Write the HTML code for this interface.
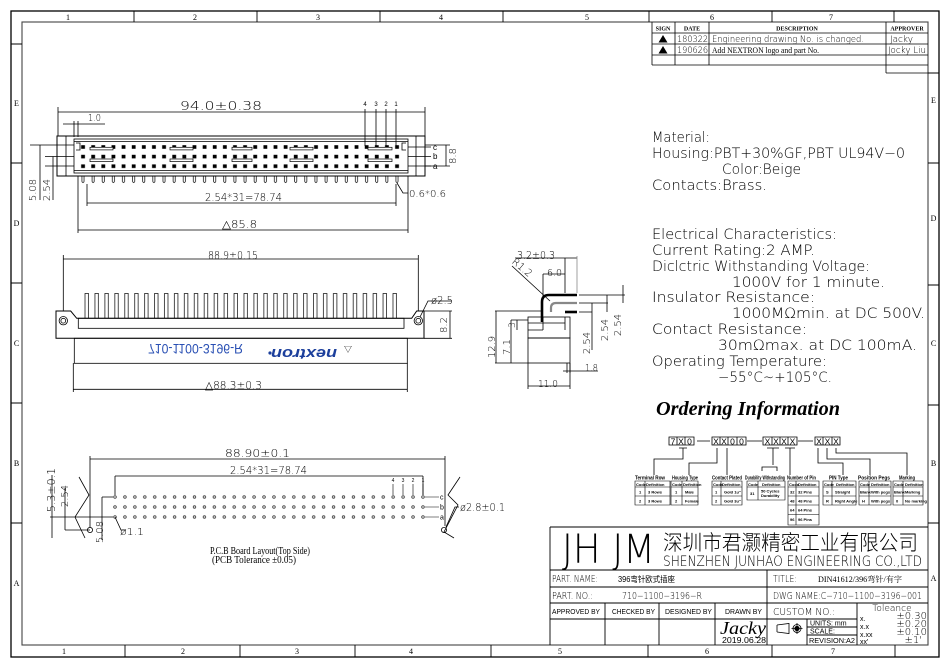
<!DOCTYPE html>
<html><head><meta charset="utf-8"><style>
html,body{margin:0;padding:0;background:#fff;}
svg{display:block;}
text{font-family:"Liberation Sans","Noto Sans CJK SC",sans-serif;fill:#000;}
.s{font-family:"Liberation Serif","Noto Serif CJK SC",serif;}
.b{font-weight:bold;}
.t{font-family:"DejaVu Sans","Liberation Sans",sans-serif;font-weight:200;}
</style></head><body>
<svg width="952" height="668" viewBox="0 0 952 668" xmlns="http://www.w3.org/2000/svg">
<defs>
<pattern id="sq" patternUnits="userSpaceOnUse" x="77.94" y="142.3" width="10.129" height="9.6">
 <rect x="3.2" y="2.9" width="3.8" height="3.6" fill="#000"/>
</pattern>
<pattern id="tl" patternUnits="userSpaceOnUse" x="77.94" y="176" width="10.129" height="9">
 <path d="M4,0 V5.5 Q5.06,8 6.1,5.5 V0" stroke="#000" stroke-width="0.7" fill="none"/>
</pattern>
<pattern id="fp" patternUnits="userSpaceOnUse" x="82" y="293" width="9.935" height="27">
 <rect x="3" y="0.5" width="3.5" height="26" fill="#fff" stroke="#000" stroke-width="0.7"/>
</pattern>
<pattern id="ph" patternUnits="userSpaceOnUse" x="110.03" y="492" width="9.935" height="10">
 <circle cx="4.97" cy="5" r="1.3" fill="none" stroke="#222" stroke-width="0.7"/>
 <circle cx="4.97" cy="5" r="0.4" fill="#222"/>
</pattern>
</defs>
<rect x="0" y="0" width="952" height="668" fill="#fff"/>

<!-- FRAME -->
<g stroke="#000" fill="none">
<rect x="11" y="11" width="928" height="646" stroke-width="1.3"/>
<rect x="22" y="22" width="906" height="623" stroke="#444" stroke-width="1.1"/>
<path d="M134,11V22 M257,11V22 M380,11V22 M503,11V22 M649,11V22 M772,11V22 M894,11V22" stroke-width="0.9"/>
<path d="M125,645V657 M240,645V657 M355,645V657 M491,645V657 M648,645V657 M772,645V657 M895,645V657" stroke-width="0.9"/>
<path d="M11,44H22 M11,163H22 M11,283H22 M11,403H22 M11,523H22" stroke-width="0.9"/>
<path d="M928,73H939 M928,163H939 M928,285H939 M928,405H939 M928,523H939" stroke-width="0.9"/>
</g>
<g class="s" font-size="8" text-anchor="middle">
<text class="s" x="68" y="20">1</text><text class="s" x="195" y="20">2</text><text class="s" x="318" y="20">3</text><text class="s" x="441" y="20">4</text><text class="s" x="587" y="20">5</text><text class="s" x="712" y="20">6</text><text class="s" x="831" y="20">7</text>
<text class="s" x="64" y="654">1</text><text class="s" x="183" y="654">2</text><text class="s" x="297" y="654">3</text><text class="s" x="411" y="654">4</text><text class="s" x="560" y="654">5</text><text class="s" x="707" y="654">6</text><text class="s" x="833" y="654">7</text>
<text class="s" x="16.5" y="106">E</text><text class="s" x="16.5" y="226">D</text><text class="s" x="16.5" y="346">C</text><text class="s" x="16.5" y="466">B</text><text class="s" x="16.5" y="586">A</text>
<text class="s" x="933.5" y="103">E</text><text class="s" x="933.5" y="221">D</text><text class="s" x="933.5" y="346">C</text><text class="s" x="933.5" y="466">B</text><text class="s" x="933.5" y="581">A</text>
</g>

<!-- REVISION TABLE -->
<g stroke="#000" stroke-width="0.8" fill="none">
<path d="M652,22V65 M675,22V65 M709,22V65 M886,22V73 M652,33H928 M652,44H928 M652,55H928 M652,65H928 M886,73H928"/>
</g>
<g font-size="6" text-anchor="middle">
<text class="s b" x="663" y="30.5">SIGN</text><text class="s b" x="692" y="30.5">DATE</text><text class="s b" x="797" y="30.5">DESCRIPTION</text><text class="s b" x="907" y="30.5">APPROVER</text>
</g>
<polygon points="663,35 667.5,42.5 658.5,42.5" fill="#000"/>
<polygon points="663,46 667.5,53.5 658.5,53.5" fill="#000"/>
<g class="t" fill="#333">
<text class="t" x="677" y="42" font-size="9" textLength="31" lengthAdjust="spacingAndGlyphs">180322</text>
<text class="t" x="712" y="42" font-size="9" textLength="152" lengthAdjust="spacingAndGlyphs">Engineering drawing No. is changed.</text>
<text class="t" x="890" y="42" font-size="9" textLength="23" lengthAdjust="spacingAndGlyphs">Jacky</text>
<text class="t" x="677" y="53" font-size="9" textLength="31" lengthAdjust="spacingAndGlyphs">190626</text>
<text class="t" x="888" y="53" font-size="9" textLength="38" lengthAdjust="spacingAndGlyphs">Jocky  Liu</text>
</g>
<text class="s" x="712" y="53" font-size="8" textLength="107" lengthAdjust="spacingAndGlyphs">Add NEXTRON logo and part No.</text>

<!-- TOP VIEW -->
<g stroke="#000" stroke-width="0.8" fill="none">
<path d="M58,112H425 M58,107V136 M425,107V136"/>
<path d="M63,124H105 M74,121V137 M78,121V137"/>
<path d="M365,109V146 M376,109V146 M386,109V146 M396,109V146"/>
<rect x="57" y="136" width="368" height="40" stroke-width="1"/>
<path d="M66,136V176 M416,136V176"/>
<rect x="74" y="139" width="334" height="34"/>
<path d="M74,141.5H408 M74,170.5H408"/>
<path d="M76,143H80V150H76 M406,143H402V150H406"/>
<path d="M408,147H431 M408,156.5H431 M408,166H431"/>
<path d="M425,145H450 M425,166H450 M446,145V166"/>
<path d="M30,145H74 M45,156.5H74 M45,166H74 M40,145V200 M53,156.5V200"/>
</g>
<rect x="77.94" y="142.3" width="324.1" height="28.8" fill="url(#sq)"/>
<g fill="#fff" stroke="#000" stroke-width="0.7">
<rect x="90" y="147.3" width="23" height="2.6"/><rect x="90" y="159" width="23" height="2.6"/>
<rect x="170" y="147.3" width="23" height="2.6"/><rect x="170" y="159" width="23" height="2.6"/>
<rect x="232" y="147.3" width="20" height="2.6"/><rect x="232" y="159" width="20" height="2.6"/>
<rect x="290" y="147.3" width="23" height="2.6"/><rect x="290" y="159" width="23" height="2.6"/>
<rect x="368" y="147.3" width="24" height="2.6"/><rect x="368" y="159" width="24" height="2.6"/>
</g>
<rect x="77.94" y="176" width="324.1" height="9" fill="url(#tl)"/>
<g stroke="#000" stroke-width="0.8" fill="none">
<path d="M87,184V206 M396,184V206 M87,203H396"/>
<path d="M397,183L403,193H408"/>
<path d="M78,176V233 M408,176V233 M78,230H408"/>
</g>
<g class="t" fill="#111">
<text class="t" x="180" y="110" font-size="12" textLength="82" lengthAdjust="spacingAndGlyphs">94.0±0.38</text>
<text class="t" x="88" y="121" font-size="10" textLength="13" lengthAdjust="spacingAndGlyphs">1.0</text>
<text class="t" x="205" y="201" font-size="11" textLength="77" lengthAdjust="spacingAndGlyphs">2.54*31=78.74</text>
<text class="t" x="409" y="197" font-size="10" textLength="37" lengthAdjust="spacingAndGlyphs">0.6*0.6</text>
<text class="t" x="222" y="228" font-size="11" textLength="35" lengthAdjust="spacingAndGlyphs">△85.8</text>
<text class="t" transform="translate(456,156) rotate(-90)" font-size="10" text-anchor="middle">8.8</text>
<text class="t" transform="translate(36,190) rotate(-90)" font-size="10" text-anchor="middle">5.08</text>
<text class="t" transform="translate(50,190) rotate(-90)" font-size="10" text-anchor="middle">2.54</text>
</g>
<g font-size="6" text-anchor="middle"><text x="365" y="106">4</text><text x="376" y="106">3</text><text x="386" y="106">2</text><text x="396" y="106">1</text></g>
<g font-size="8"><text x="433" y="150">c</text><text x="433" y="159">b</text><text x="433" y="169">a</text></g>

<!-- FRONT VIEW -->
<rect x="82" y="293" width="318" height="27" fill="url(#fp)"/>
<g stroke="#000" stroke-width="0.8" fill="none">
<path d="M63.3,255V316 M418.3,255V316 M63.3,259H418.3"/>
<path d="M56,311H70.7L76.7,318.3H411.7L416.7,311H424V338.3H56Z" fill="#fff" stroke-width="1"/>
<rect x="78.3" y="318.3" width="325.7" height="10"/>
<circle cx="63.3" cy="320.7" r="4.2"/><circle cx="63.3" cy="320.7" r="2.4"/>
<circle cx="418.3" cy="320.7" r="4.2"/><circle cx="418.3" cy="320.7" r="2.4"/>
<rect x="74.3" y="338.3" width="333" height="25"/>
<path d="M73.3,363V392 M407.3,363V392 M73.3,389.3H407.3"/>
<path d="M420,317L428,301H452"/>
<path d="M424,311H452 M424,338.3H452 M450,311V338.3"/>
</g>
<text transform="translate(195.5,344) scale(1,-1)" font-size="14" text-anchor="middle" style="fill:#2a50b4" textLength="95" lengthAdjust="spacingAndGlyphs">710-1100-3196-R</text>
<text transform="translate(304,349) rotate(180)" font-size="15" class="b" text-anchor="middle" style="fill:#1c3f9c;font-style:italic" textLength="66" lengthAdjust="spacingAndGlyphs">nextron</text>
<circle cx="270" cy="353" r="1.6" fill="#1c3f9c"/>
<text x="348" y="352" font-size="8" text-anchor="middle">▽</text>
<g class="t" fill="#111">
<text class="t" x="208" y="259" font-size="11" textLength="50" lengthAdjust="spacingAndGlyphs">88.9±0.15</text>
<text class="t" x="431" y="304" font-size="11" textLength="22" lengthAdjust="spacingAndGlyphs">ø2.5</text>
<text class="t" transform="translate(447,325) rotate(-90)" font-size="10" text-anchor="middle">8.2</text>
<text class="t" x="205" y="389" font-size="11" textLength="57" lengthAdjust="spacingAndGlyphs">△88.3±0.3</text>
</g>

<!-- SIDE VIEW -->
<g stroke="#000" stroke-width="0.8" fill="none">
<path d="M515,258H577 M565,258V293 M543,274H565 M543,274V300"/>
<path d="M577,256V293" stroke="#888"/>
<path d="M512,266L550,301"/>
<path d="M577,295H549Q542,295 542,302V322" stroke-width="2.6"/>
<path d="M577,303H556Q551,303 551,308V312" stroke="#888" stroke-width="2.2"/>
<path d="M565,312H577" stroke-width="2.6"/>
<path d="M579,295H625 M579,303H608 M579,312H592"/>
<path d="M623,285V303 M607,295V312 M592,303V350"/>
<rect x="528" y="317" width="42" height="21"/>
<rect x="528" y="338" width="42" height="25"/>
<path d="M528,323H565 M543,317V330 M565,317V330 M528,330H543"/>
<path d="M495,311H542 M495,363H528 M496,311V363"/>
<path d="M511,320H528 M511,320V363 M517,320V330"/>
<path d="M567,363V373 M570,363V373 M563,371H598"/>
<path d="M528,363V389 M570,363V389 M528,386H570"/>
</g>
<g class="t" fill="#111">
<text class="t" x="517" y="259" font-size="11" textLength="38" lengthAdjust="spacingAndGlyphs">3.2±0.3</text>
<text class="t" x="547" y="276" font-size="10" textLength="15" lengthAdjust="spacingAndGlyphs">6.0</text>
<text class="t" transform="translate(520,270) rotate(40)" font-size="10" text-anchor="middle">R1.2</text>
<text class="t" transform="translate(495,347) rotate(-90)" font-size="10" text-anchor="middle">12.9</text>
<text class="t" transform="translate(510,347) rotate(-90)" font-size="10" text-anchor="middle">7.1</text>
<text class="t" transform="translate(515,325) rotate(-90)" font-size="9" text-anchor="middle">3</text>
<text class="t" transform="translate(621,325) rotate(-90)" font-size="10" text-anchor="middle">2.54</text>
<text class="t" transform="translate(608,330) rotate(-90)" font-size="10" text-anchor="middle">2.54</text>
<text class="t" transform="translate(590,343) rotate(-90)" font-size="10" text-anchor="middle">2.54</text>
<text class="t" x="585" y="371" font-size="10" textLength="13" lengthAdjust="spacingAndGlyphs">1.8</text>
<text class="t" x="538" y="387" font-size="10" textLength="20" lengthAdjust="spacingAndGlyphs">11.0</text>
</g>

<!-- SPEC TEXT -->
<g font-size="14" fill="#222">
<text class="t" x="652" y="142" textLength="58" lengthAdjust="spacingAndGlyphs">Material:</text>
<text class="t" x="652" y="158" textLength="253" lengthAdjust="spacingAndGlyphs">Housing:PBT+30%GF,PBT  UL94V−0</text>
<text class="t" x="722" y="174" textLength="79" lengthAdjust="spacingAndGlyphs">Color:Beige</text>
<text class="t" x="652" y="190" textLength="115" lengthAdjust="spacingAndGlyphs">Contacts:Brass.</text>
<text class="t" x="652" y="239" textLength="185" lengthAdjust="spacingAndGlyphs">Electrical  Characteristics:</text>
<text class="t" x="652" y="255" textLength="163" lengthAdjust="spacingAndGlyphs">Current  Rating:2  AMP.</text>
<text class="t" x="652" y="271" textLength="218" lengthAdjust="spacingAndGlyphs">Diclctric  Withstanding  Voltage:</text>
<text class="t" x="732" y="287" textLength="153" lengthAdjust="spacingAndGlyphs">1000V  for  1  minute.</text>
<text class="t" x="652" y="302" textLength="163" lengthAdjust="spacingAndGlyphs">Insulator  Resistance:</text>
<text class="t" x="732" y="318" textLength="193" lengthAdjust="spacingAndGlyphs">1000MΩmin.  at  DC  500V.</text>
<text class="t" x="652" y="334" textLength="155" lengthAdjust="spacingAndGlyphs">Contact  Resistance:</text>
<text class="t" x="718" y="350" textLength="199" lengthAdjust="spacingAndGlyphs">30mΩmax.  at  DC  100mA.</text>
<text class="t" x="652" y="366" textLength="175" lengthAdjust="spacingAndGlyphs">Operating  Temperature:</text>
<text class="t" x="718" y="382" textLength="114" lengthAdjust="spacingAndGlyphs">−55°C~+105°C.</text>
</g>
<text class="s b" x="656" y="415" font-size="20" font-style="italic" textLength="184" lengthAdjust="spacingAndGlyphs">Ordering Information</text>

<!-- ORDERING DIAGRAM -->
<g stroke="#000" stroke-width="0.8" fill="none">
<path d="M669,437H694V445H669Z M677,437V445 M685,437V445"/>
<path d="M712,437H746V445H712Z M720,437V445 M728,437V445 M737,437V445"/>
<path d="M763,437H797V445H763Z M772,437V445 M780,437V445 M788,437V445"/>
<path d="M815,437H840V445H815Z M823,437V445 M832,437V445"/>
<path d="M697,441H710 M747,441H762 M798,441H813"/>
<path d="M679,448H687 M683,448V459H654V475"/>
<path d="M717,448V463H689V475"/>
<path d="M727,448V475"/>
<path d="M767,448H779 M773,448V465 M762,471V467H777V471"/>
<path d="M785,448H795 M790,448V475"/>
<path d="M818,448V463H843V475"/>
<path d="M827,448V459H870V475"/>
<path d="M836,448V453H907V475"/>
</g>
<g font-size="8.5" text-anchor="middle">
<text x="673" y="444.5">7</text><text x="681" y="444.5">X</text><text x="689.5" y="444.5">0</text>
<text x="716" y="444.5">X</text><text x="724" y="444.5">X</text><text x="732.5" y="444.5">0</text><text x="741.5" y="444.5">0</text>
<text x="767.5" y="444.5">X</text><text x="776" y="444.5">X</text><text x="784" y="444.5">X</text><text x="792.5" y="444.5">X</text>
<text x="819" y="444.5">X</text><text x="827.5" y="444.5">X</text><text x="836" y="444.5">X</text>
</g>
<g stroke="#000" stroke-width="0.6" fill="none">
<path d="M635,481H670V505H635Z M645,481V505 M635,487H670 M635,496H670"/>
<path d="M671,481H698V505H671Z M682,481V505 M671,487H698 M671,496H698"/>
<path d="M712,481H742V505H712Z M721,481V505 M712,487H742 M712,496H742"/>
<path d="M747,481H785V500H747Z M758,481V500 M747,487H785"/>
<path d="M788,481H819V525H788Z M796,481V525 M788,487H819 M788,496H819 M788,505H819 M788,514.5H819"/>
<path d="M823,481H856V505H823Z M832,481V505 M823,487H856 M823,496H856"/>
<path d="M859,481H891V505H859Z M869,481V505 M859,487H891 M859,496H891"/>
<path d="M893,481H923V505H893Z M903,481V505 M893,487H923 M893,496H923"/>
</g>
<g font-size="5" class="b">
<text x="635" y="479.5" textLength="30" lengthAdjust="spacingAndGlyphs">Terminal Row</text>
<text x="672" y="479.5" textLength="26" lengthAdjust="spacingAndGlyphs">Housing Type</text>
<text x="712" y="479.5" textLength="30" lengthAdjust="spacingAndGlyphs">Contact Plated</text>
<text x="745" y="479.5" textLength="40" lengthAdjust="spacingAndGlyphs">Durability Withstanding</text>
<text x="787" y="479.5" textLength="29" lengthAdjust="spacingAndGlyphs">Number of Pin</text>
<text x="829" y="479.5" textLength="19" lengthAdjust="spacingAndGlyphs">PIN Type</text>
<text x="858" y="479.5" textLength="32" lengthAdjust="spacingAndGlyphs">Position Pegs</text>
<text x="899" y="479.5" textLength="16" lengthAdjust="spacingAndGlyphs">Marking</text>
</g>
<g font-size="4" class="b">
<text x="636" y="486">Code</text><text x="646" y="486">Definition</text>
<text x="672" y="486">Code</text><text x="683" y="486">Definition</text>
<text x="713" y="486">Code</text><text x="722" y="486">Definition</text>
<text x="748" y="486">Code</text><text x="762" y="486">Definition</text>
<text x="789" y="486">Code</text><text x="798" y="486">Definition</text>
<text x="824" y="486">Code</text><text x="836" y="486">Definition</text>
<text x="860" y="486">Code</text><text x="871" y="486">Definition</text>
<text x="894" y="486">Code</text><text x="905" y="486">Definition</text>
<text x="639" y="493.5">1</text><text x="648" y="493.5">3 Rows</text>
<text x="639" y="502.5">2</text><text x="648" y="502.5">3 Rows</text>
<text x="675" y="493.5">1</text><text x="685" y="493.5">Male</text>
<text x="675" y="502.5">2</text><text x="685" y="502.5">Female</text>
<text x="715" y="493.5">1</text><text x="724" y="493.5">Gold 1u"</text>
<text x="715" y="502.5">2</text><text x="724" y="502.5">Gold 3u"</text>
<text x="750" y="495">31</text><text x="761" y="492.5">50 Cycles</text><text x="761" y="497">Durability</text>
<text x="790" y="493.5">32</text><text x="798" y="493.5">32 Pins</text>
<text x="790" y="502.5">48</text><text x="798" y="502.5">48 Pins</text>
<text x="790" y="511.5">64</text><text x="798" y="511.5">64 Pins</text>
<text x="790" y="521">96</text><text x="798" y="521">96 Pins</text>
<text x="826" y="493.5">S</text><text x="835" y="493.5">Straight</text>
<text x="826" y="502.5">R</text><text x="835" y="502.5">Right Angle</text>
<text x="860" y="493.5">Blank</text><text x="871" y="493.5">With pegs</text>
<text x="862" y="502.5">H</text><text x="871" y="502.5">With pegs</text>
<text x="894" y="493.5">Blank</text><text x="905" y="493.5">Marking</text>
<text x="896" y="502.5">0</text><text x="905" y="502.5">No marking</text>
</g>

<!-- PCB LAYOUT -->
<rect x="110.03" y="492" width="317.92" height="30" fill="url(#ph)"/>
<g stroke="#000" stroke-width="0.8" fill="none">
<path d="M90,459H445 M90,456V528 M445,456V526"/>
<path d="M115,476H423 M115,476V495 M423,476V495"/>
<path d="M393,484V495 M403,484V495 M413,484V495 M423,484V495" stroke-width="0.6"/>
<path d="M425,497H439 M425,507H439 M425,517H439" stroke-width="0.6"/>
<circle cx="90" cy="530" r="2.6"/><circle cx="444" cy="530" r="2.6"/>
<path d="M79,477L89,495L75,517L85,538"/>
<path d="M460,477L448,495L458,505L444,532L454,538"/>
<path d="M446,527L455,507H459"/>
<path d="M52,475V538 M50,517H113 M65,488V530 M65,530H90"/>
<path d="M102,497V540 M102,497H113"/>
<path d="M115,517L121,530H126"/>
</g>
<g class="t" fill="#111">
<text class="t" x="225" y="457" font-size="11" textLength="65" lengthAdjust="spacingAndGlyphs">88.90±0.1</text>
<text class="t" x="230" y="474" font-size="11" textLength="77" lengthAdjust="spacingAndGlyphs">2.54*31=78.74</text>
<text class="t" x="460" y="511" font-size="11" textLength="45" lengthAdjust="spacingAndGlyphs">ø2.8±0.1</text>
<text class="t" transform="translate(55,490) rotate(-90)" font-size="11" text-anchor="middle">5.3±0.1</text>
<text class="t" transform="translate(68,496) rotate(-90)" font-size="10" text-anchor="middle">2.54</text>
<text class="t" transform="translate(103,532) rotate(-90)" font-size="10" text-anchor="middle">5.08</text>
<text class="t" x="120" y="535" font-size="10" textLength="24" lengthAdjust="spacingAndGlyphs">ø1.1</text>
</g>
<g font-size="5" text-anchor="middle"><text x="393" y="482">4</text><text x="403" y="482">3</text><text x="413" y="482">2</text><text x="423" y="482">1</text></g>
<g font-size="7"><text x="440" y="499.5">c</text><text x="440" y="509.5">b</text><text x="440" y="519.5">a</text></g>
<text class="s" x="260" y="554" font-size="10" text-anchor="middle" textLength="100" lengthAdjust="spacingAndGlyphs">P.C.B Board Layout(Top Side)</text>
<text class="s" x="254" y="563" font-size="10" text-anchor="middle" textLength="84" lengthAdjust="spacingAndGlyphs">(PCB Tolerance ±0.05)</text>

<!-- TITLE BLOCK -->
<g stroke="#000" stroke-width="0.9" fill="none">
<path d="M550,527H928 M550,527V645"/>
<path d="M550,570H928 M550,587H928 M550,603H928 M550,619H767"/>
<path d="M767,570V645 M605,603V645 M659,603V645 M715,603V645 M857,603V645"/>
<path d="M767,619H857 M807,619V645 M807,627H857 M807,635H857"/>
</g>
<text class="t" x="562" y="563" font-size="40" fill="#333" textLength="93" lengthAdjust="spacingAndGlyphs">JH JM</text>
<text x="663" y="550" font-size="21" fill="#333" textLength="255" lengthAdjust="spacingAndGlyphs" style="font-family:'Noto Sans CJK SC',sans-serif;font-weight:300">深圳市君灏精密工业有限公司</text>
<text class="t" x="663" y="566" font-size="14" fill="#222" textLength="259" lengthAdjust="spacingAndGlyphs">SHENZHEN  JUNHAO  ENGINEERING  CO.,LTD</text>
<g font-size="9.5" fill="#222">
<text class="t" x="552" y="582" textLength="46" lengthAdjust="spacingAndGlyphs">PART.  NAME:</text>
<text x="618" y="582" font-size="8" textLength="57" lengthAdjust="spacingAndGlyphs">396弯针欧式插座</text>
<text class="t" x="773" y="582" textLength="24" lengthAdjust="spacingAndGlyphs">TITLE:</text>
<text class="s" x="818" y="582" font-size="8" textLength="84" lengthAdjust="spacingAndGlyphs">DIN41612/396弯针/有字</text>
<text class="t" x="552" y="599" textLength="41" lengthAdjust="spacingAndGlyphs">PART.  NO.:</text>
<text class="t" x="622" y="599" textLength="80" lengthAdjust="spacingAndGlyphs">710−1100−3196−R</text>
<text class="t" x="773" y="599" textLength="149" lengthAdjust="spacingAndGlyphs">DWG  NAME:C−710−1100−3196−001</text>
<text x="552" y="614" font-size="7" textLength="48" lengthAdjust="spacingAndGlyphs">APPROVED  BY</text>
<text x="612" y="614" font-size="7" textLength="43" lengthAdjust="spacingAndGlyphs">CHECKED  BY</text>
<text x="665" y="614" font-size="7" textLength="47" lengthAdjust="spacingAndGlyphs">DESIGNED  BY</text>
<text x="725" y="614" font-size="7" textLength="37" lengthAdjust="spacingAndGlyphs">DRAWN  BY</text>
<text class="t" x="773" y="615" font-size="10" textLength="62" lengthAdjust="spacingAndGlyphs">CUSTOM  NO.:</text>
<text class="t" x="892" y="611" font-size="9" text-anchor="middle">Toleance</text>
</g>
<text class="s" x="720" y="634" font-size="18" font-style="italic" textLength="46" lengthAdjust="spacingAndGlyphs">Jacky</text>
<text x="722" y="643" font-size="8" textLength="44" lengthAdjust="spacingAndGlyphs" fill="#222">2019.06.28</text>
<g stroke="#000" stroke-width="0.8" fill="none">
<path d="M777,625V632 M777,625L789,623.5V633.5L777,632"/>
<circle cx="797" cy="628.5" r="4"/><circle cx="797" cy="628.5" r="2.2" fill="#000"/>
<path d="M791.5,628.5H802.5 M797,623V634"/>
</g>
<g font-size="7" fill="#222">
<text x="810" y="625.5">UNITS:  mm</text>
<text x="810" y="633.5">SCALE:</text>
<text x="809" y="643" textLength="46" lengthAdjust="spacingAndGlyphs">REVISION:A2</text>
<text x="860" y="621">x.</text>
<text x="860" y="629">x.x</text>
<text x="860" y="637">x.xx</text>
<text x="860" y="644">xx'</text>
</g>
<g font-size="10" text-anchor="end" fill="#222">
<text class="t" x="927" y="619">±0.30</text>
<text class="t" x="927" y="627">±0.20</text>
<text class="t" x="927" y="635">±0.10</text>
<text class="t" x="922" y="643">±1'</text>
</g>
</svg>
</body></html>
